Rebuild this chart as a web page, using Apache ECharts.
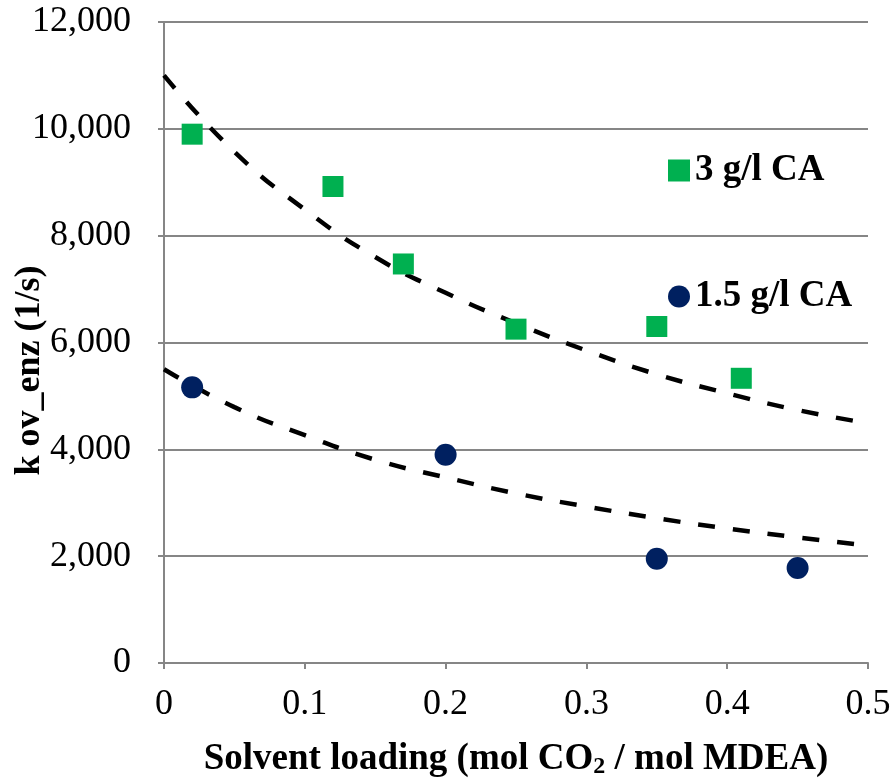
<!DOCTYPE html>
<html>
<head>
<meta charset="utf-8">
<script src="https://cdn.jsdelivr.net/npm/echarts@6/dist/echarts.min.js"></script>
<style>
  html, body { margin: 0; padding: 0; background: #fff; }
  #chart { width: 892px; height: 782px; }
</style>
</head>
<body>
<div id="chart"></div>
<script>
// measured points
const loading3 = [0.02, 0.12, 0.17, 0.25, 0.35, 0.41];
const kov3 = [9900, 8920, 7470, 6250, 6300, 5330];
const loading15 = [0.02, 0.20, 0.35, 0.45];
const kov15 = [5160, 3900, 1950, 1780];

// dashed trend lines
const trendX = [0, 0.05, 0.1, 0.15, 0.2, 0.25, 0.3, 0.35, 0.4, 0.45, 0.5];
const trendY3 = [11000, 9570, 8490, 7600, 6930, 6360, 5850, 5405, 5050, 4735, 4490];
const trendY15 = [5500, 4790, 4265, 3805, 3475, 3175, 2930, 2710, 2520, 2350, 2200];

const xTicks = [0, 0.1, 0.2, 0.3, 0.4, 0.5];
const yTicks = [0, 2000, 4000, 6000, 8000, 10000, 12000];

const FONT = '"Liberation Serif", "Times New Roman", serif';
const GREY = '#868686';

function zip(a, b) {
  return a.map((v, i) => [v, b[i]]);
}

let chart = echarts.init(document.getElementById('chart'));

let legendText = { fontFamily: FONT, fontWeight: 'bold', fontSize: 37, color: '#000' };

let option = {
  animation: false,
  grid: {
    left: 164,
    right: 24,
    top: 22,
    bottom: 119,
    containLabel: false,
    outerBoundsMode: 'none'
  },
  legend: [
    {
      data: ['3 g/l CA'],
      left: 668,
      top: 152,
      padding: 0,
      itemWidth: 22,
      itemHeight: 22,
      textStyle: legendText
    },
    {
      data: ['1.5 g/l CA'],
      left: 668,
      top: 278,
      padding: 0,
      itemWidth: 22,
      itemHeight: 22,
      textStyle: legendText
    }
  ],
  xAxis: {
    type: 'value',
    min: xTicks[0],
    max: xTicks[xTicks.length - 1],
    interval: 0.1,
    name: 'Solvent loading (mol CO{sub|2} / mol MDEA)',
    nameLocation: 'middle',
    nameGap: 76,
    nameMoveOverlap: false,
    nameTextStyle: {
      fontFamily: FONT,
      fontWeight: 'bold',
      fontSize: 37,
      color: '#000',
      rich: {
        sub: { fontFamily: FONT, fontWeight: 'bold', fontSize: 24, color: '#000', verticalAlign: 'bottom', padding: [16, 0, 0, 0] }
      }
    },
    axisLine: { show: true, lineStyle: { color: GREY, width: 2 } },
    axisTick: { show: true, length: 6, lineStyle: { color: GREY, width: 2 } },
    axisLabel: {
      fontFamily: FONT,
      fontSize: 36,
      color: '#000',
      margin: 24,
      formatter: v => String(v)
    },
    splitLine: { show: false }
  },
  yAxis: {
    type: 'value',
    min: yTicks[0],
    max: yTicks[yTicks.length - 1],
    interval: 2000,
    name: 'k ov_enz (1/s)',
    nameLocation: 'middle',
    nameGap: 116,
    nameMoveOverlap: false,
    nameTextStyle: { fontFamily: FONT, fontWeight: 'bold', fontSize: 36, color: '#000', padding: [0, 56, 0, 0] },
    axisLine: { show: true, lineStyle: { color: GREY, width: 2 } },
    axisTick: { show: true, length: 6, lineStyle: { color: GREY, width: 2 } },
    axisLabel: {
      fontFamily: FONT,
      fontSize: 36,
      color: '#000',
      margin: 33,
      formatter: v => v.toLocaleString('en-US')
    },
    splitLine: { show: true, lineStyle: { color: GREY, width: 2 } }
  },
  series: [
    {
      name: 'trend3',
      type: 'line',
      data: zip(trendX, trendY3),
      showSymbol: false,
      smooth: true,
      lineStyle: { color: '#000', width: 4.5, type: [17, 18] },
      z: 2
    },
    {
      name: 'trend15',
      type: 'line',
      data: zip(trendX, trendY15),
      showSymbol: false,
      smooth: true,
      lineStyle: { color: '#000', width: 4.5, type: [17, 18] },
      z: 2
    },
    {
      name: '3 g/l CA',
      type: 'scatter',
      symbol: 'rect',
      symbolSize: 21,
      data: zip(loading3, kov3),
      itemStyle: { color: '#00B050', opacity: 1 },
      z: 3
    },
    {
      name: '1.5 g/l CA',
      type: 'scatter',
      symbol: 'circle',
      symbolSize: 22,
      data: zip(loading15, kov15),
      itemStyle: { color: '#002060', opacity: 1 },
      z: 3
    }
  ]
};

chart.setOption(option, true);
</script>
</body>
</html>
